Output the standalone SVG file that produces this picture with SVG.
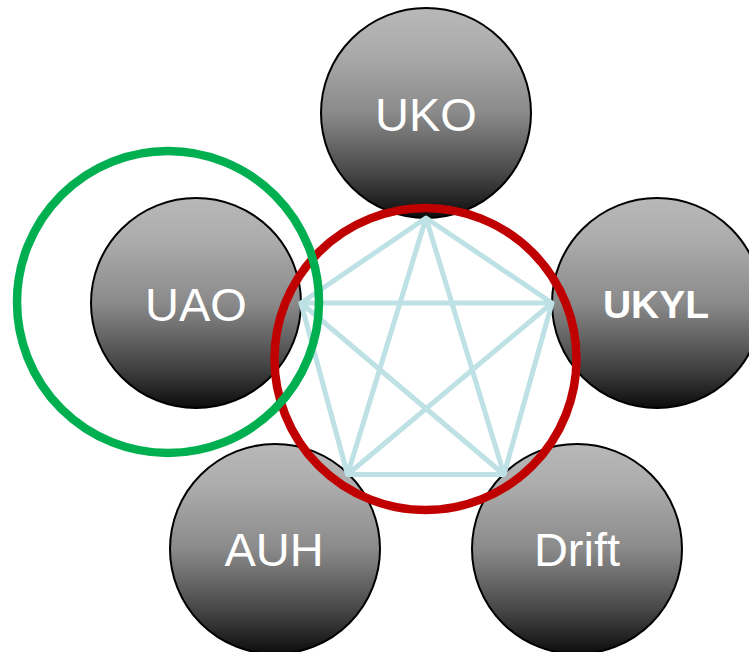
<svg xmlns="http://www.w3.org/2000/svg" width="749" height="652" viewBox="0 0 749 652">
<defs>
<linearGradient id="g" x1="0" y1="0" x2="0" y2="1">
<stop offset="0" stop-color="#b8b8b8"/>
<stop offset="0.2" stop-color="#acacac"/>
<stop offset="0.5" stop-color="#8a8a8a"/>
<stop offset="0.8" stop-color="#444444"/>
<stop offset="1" stop-color="#0c0c0c"/>
</linearGradient>
</defs>
<style>
.node{fill:url(#g);stroke:#000;stroke-width:2}
.lbl{fill:#fff;font-family:"Liberation Sans",Arial,sans-serif;font-size:47px;text-anchor:middle}
.bold{font-weight:bold;font-size:39px}
.link{stroke:#bde1e4;stroke-width:5;fill:none;stroke-linejoin:round}
.ring{fill:none;stroke-width:8.5}
</style>
<g id="UKO"><circle class="node" cx="426" cy="113" r="105"/><text class="lbl" x="426" y="131">UKO</text></g>
<g id="UAO"><circle class="node" cx="196" cy="303" r="105"/><text class="lbl" x="196" y="321">UAO</text></g>
<g id="UKYL"><circle class="node" cx="657" cy="303" r="105"/><text class="lbl bold" x="656" y="318">UKYL</text></g>
<g id="AUH"><circle class="node" cx="275" cy="549" r="105"/><text class="lbl" x="274" y="566">AUH</text></g>
<g id="Drift"><circle class="node" cx="577" cy="549" r="105"/><text class="lbl" x="577" y="566">Drift</text></g>
<g id="connectors">
<path class="link" d="M426,218 L301,303 L347.5,474.5 L504,474.5 L552,303 Z M426,218 L347.5,474.5 M426,218 L504,474.5 M301,303 L552,303 M301,303 L504,474.5 M552,303 L347.5,474.5"/>
</g>
<circle class="ring" cx="425.5" cy="359" r="151" stroke="#c00000"/>
<circle class="ring" cx="168" cy="302" r="151" stroke="#00b050"/>
</svg>
